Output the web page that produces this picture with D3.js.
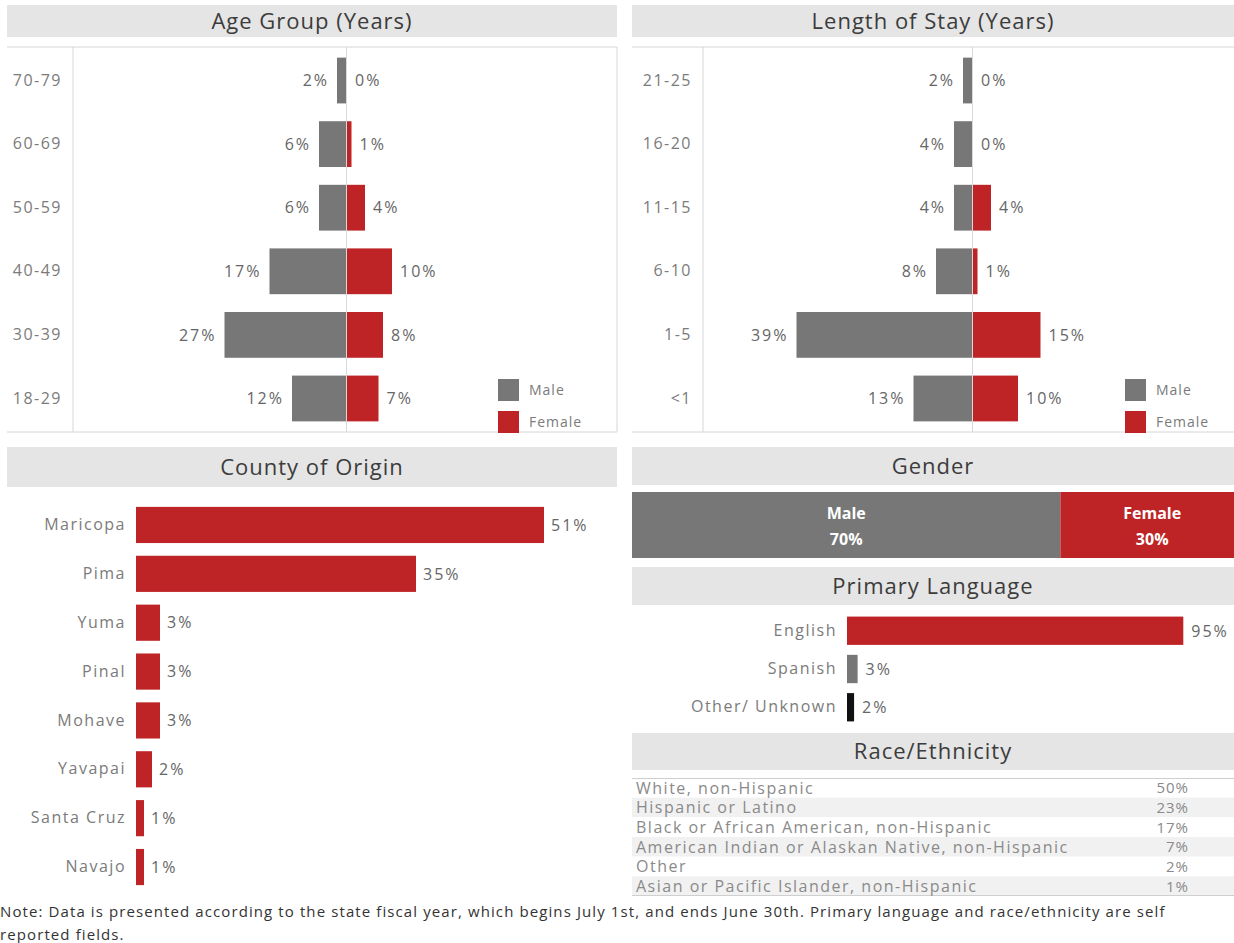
<!DOCTYPE html>
<html>
<head>
<meta charset="utf-8">
<script src="https://cdn.jsdelivr.net/npm/d3@7"></script>
<style>
  html, body { margin: 0; padding: 0; background: #fff; }
  svg { display: block; font-family: "Open Sans", "Noto Sans", sans-serif; }
</style>
</head>
<body>
<svg id="dash" width="1234" height="943"></svg>
<script>
// ---- Data ----
const ageGroups = ["70-79", "60-69", "50-59", "40-49", "30-39", "18-29"];
const ageMale = [2, 6, 6, 17, 27, 12];
const ageFemale = [0, 1, 4, 10, 8, 7];

const stayGroups = ["21-25", "16-20", "11-15", "6-10", "1-5", "<1"];
const stayMale = [2, 4, 4, 8, 39, 13];
const stayFemale = [0, 0, 4, 1, 15, 10];

const counties = ["Maricopa", "Pima", "Yuma", "Pinal", "Mohave", "Yavapai", "Santa Cruz", "Navajo"];
const countyPct = [51, 35, 3, 3, 3, 2, 1, 1];

const genders = ["Male", "Female"];
const genderPct = [70, 30];

const languages = ["English", "Spanish", "Other/ Unknown"];
const languagePct = [95, 3, 2];

const races = [
  "White, non-Hispanic",
  "Hispanic or Latino",
  "Black or African American, non-Hispanic",
  "American Indian or Alaskan Native, non-Hispanic",
  "Other",
  "Asian or Pacific Islander, non-Hispanic"
];
const racePct = [50, 23, 17, 7, 2, 1];

const noteLines = [
  "Note: Data is presented according to the state fiscal year, which begins July 1st, and ends June 30th. Primary language and race/ethnicity are self",
  "reported fields."
];

// ---- Styles ----
const MALE = "#777777";
const FEMALE = "#be2426";
const BAND = "#e5e5e5";
const TITLE = "#3c3c3c";
const LABEL = "#7b7b7b";
const VALUE = "#666";
const RULE = "#d6d6d6";

const svg = d3.select("#dash");
const pct = d => d + "%";

function styleLabel(sel, size, spacing) {
  sel.attr("font-size", size).attr("letter-spacing", spacing).attr("font-family", "Open Sans");
}

function titleBand(x0, x1, y0, y1, text) {
  svg.append("rect").attr("x", x0).attr("y", y0).attr("width", x1 - x0).attr("height", y1 - y0).attr("fill", BAND);
  svg.append("text").attr("x", (x0 + x1) / 2).attr("y", (y0 + y1) / 2).attr("dy", "0.36em")
    .attr("text-anchor", "middle").attr("font-size", 22).attr("letter-spacing", 1)
    .attr("fill", TITLE).text(text);
}

// Butterfly chart: male to the left of the centre line, female to the right
function butterfly(cfg) {
  const { x0, x1, axisX, centerX, top, bottom, cats, male, female, legendX } = cfg;
  const g = svg.append("g");
  const y = d3.scaleBand().domain(cats).range([top + 3, bottom - 3]).paddingInner(0.28).paddingOuter(0.12);
  const xl = d3.scaleLinear().domain([0, 60]).range([centerX, centerX - 270]);
  const xr = d3.scaleLinear().domain([0, 60]).range([centerX, centerX + 270]);

  // frame lines
  g.append("line").attr("x1", x0).attr("x2", x1).attr("y1", top).attr("y2", top).attr("stroke", RULE);
  g.append("line").attr("x1", x0).attr("x2", x1).attr("y1", bottom).attr("y2", bottom).attr("stroke", RULE);
  g.append("line").attr("x1", axisX).attr("x2", axisX).attr("y1", top).attr("y2", bottom).attr("stroke", RULE);
  g.append("line").attr("x1", x1).attr("x2", x1).attr("y1", top).attr("y2", bottom).attr("stroke", RULE);

  // category axis
  const ax = g.append("g").attr("transform", `translate(${axisX - 11},0)`)
    .call(d3.axisLeft(y).tickSize(0).tickPadding(0));
  ax.select(".domain").remove();
  ax.selectAll("text").attr("fill", LABEL).call(styleLabel, 16, 1.5);

  const rows = cats.map((c, i) => ({ c, m: male[i], f: female[i] }));

  g.selectAll(".m").data(rows).join("rect")
    .attr("x", d => xl(d.m)).attr("y", d => y(d.c))
    .attr("width", d => xl(0) - xl(d.m)).attr("height", y.bandwidth()).attr("fill", MALE);
  g.selectAll(".f").data(rows).join("rect")
    .attr("x", xr(0) + 1).attr("y", d => y(d.c))
    .attr("width", d => xr(d.f) - xr(0)).attr("height", y.bandwidth()).attr("fill", FEMALE);

  // centre line
  g.append("line").attr("x1", centerX + 0.5).attr("x2", centerX + 0.5).attr("y1", top).attr("y2", bottom)
    .attr("stroke", "#d9d9d9");

  g.selectAll(".ml").data(rows).join("text")
    .attr("x", d => xl(d.m) - 8).attr("y", d => y(d.c) + y.bandwidth() / 2).attr("dy", "0.36em")
    .attr("text-anchor", "end").attr("fill", VALUE).call(styleLabel, 16, 2).text(d => pct(d.m));
  g.selectAll(".fl").data(rows).join("text")
    .attr("x", d => xr(d.f) + 9).attr("y", d => y(d.c) + y.bandwidth() / 2).attr("dy", "0.36em")
    .attr("fill", VALUE).call(styleLabel, 16, 2).text(d => pct(d.f));

  // legend
  const leg = g.append("g").attr("transform", `translate(${legendX},${bottom - 53})`);
  [["Male", MALE], ["Female", FEMALE]].forEach(([name, col], i) => {
    leg.append("rect").attr("x", 0).attr("y", i * 32).attr("width", 21).attr("height", 22).attr("fill", col);
    leg.append("text").attr("x", 31).attr("y", i * 32 + 11).attr("dy", "0.36em")
      .attr("fill", LABEL).call(styleLabel, 14, 1).text(name);
  });
}

// ---- Age Group ----
titleBand(7, 617, 5, 37, "Age Group (Years)");
butterfly({ x0: 7, x1: 617, axisX: 73, centerX: 346, top: 47, bottom: 432,
  cats: ageGroups, male: ageMale, female: ageFemale, legendX: 498 });

// ---- Length of Stay ----
titleBand(632, 1234, 5, 37, "Length of Stay (Years)");
butterfly({ x0: 632, x1: 1240, axisX: 703, centerX: 972, top: 47, bottom: 432,
  cats: stayGroups, male: stayMale, female: stayFemale, legendX: 1125 });

// ---- County of Origin ----
titleBand(7, 617, 447, 487, "County of Origin");
{
  const y = d3.scaleBand().domain(counties).range([502, 890]).paddingInner(0.26).paddingOuter(0.1);
  const x = d3.scaleLinear().domain([0, 60]).range([136, 136 + 60 * 8.0]);
  const g = svg.append("g");
  const ax = g.append("g").attr("transform", "translate(126,0)").call(d3.axisLeft(y).tickSize(0).tickPadding(0));
  ax.select(".domain").remove();
  ax.selectAll("text").attr("fill", LABEL).call(styleLabel, 16, 1.5);
  const rows = counties.map((c, i) => ({ c, v: countyPct[i] }));
  g.selectAll("rect").data(rows).join("rect")
    .attr("x", x(0)).attr("y", d => y(d.c)).attr("width", d => x(d.v) - x(0)).attr("height", y.bandwidth())
    .attr("fill", FEMALE);
  g.selectAll(".v").data(rows).join("text")
    .attr("x", d => x(d.v) + 7).attr("y", d => y(d.c) + y.bandwidth() / 2).attr("dy", "0.36em")
    .attr("fill", VALUE).call(styleLabel, 16, 2).text(d => pct(d.v));
}

// ---- Gender ----
titleBand(632, 1234, 447, 485, "Gender");
{
  const x = d3.scaleLinear().domain([0, 100]).range([632, 1244]);
  const rows = genders.map((c, i) => ({ c, v: genderPct[i], start: d3.sum(genderPct.slice(0, i)) }));
  const g = svg.append("g");
  g.selectAll("rect").data(rows).join("rect")
    .attr("x", d => x(d.start)).attr("y", 492).attr("height", 66)
    .attr("width", d => x(d.start + d.v) - x(d.start)).attr("fill", (d, i) => i ? FEMALE : MALE);
  const lab = g.selectAll(".gl").data(rows).join("text")
    .attr("text-anchor", "middle").attr("fill", "#fff").attr("font-weight", "bold").attr("font-size", 16);
  lab.append("tspan").attr("x", d => x(d.start + d.v / 2)).attr("y", 519).text(d => d.c);
  lab.append("tspan").attr("x", d => x(d.start + d.v / 2)).attr("y", 545).text(d => pct(d.v));
}

// ---- Primary Language ----
titleBand(632, 1234, 567, 605, "Primary Language");
{
  const y = d3.scaleBand().domain(languages).range([612, 726]).paddingInner(0.26).paddingOuter(0.12);
  const x = d3.scaleLinear().domain([0, 100]).range([847, 847 + 354]);
  const cols = [FEMALE, MALE, "#111"];
  const g = svg.append("g");
  const ax = g.append("g").attr("transform", "translate(837,0)").call(d3.axisLeft(y).tickSize(0).tickPadding(0));
  ax.select(".domain").remove();
  ax.selectAll("text").attr("fill", LABEL).call(styleLabel, 16, 1.5);
  const rows = languages.map((c, i) => ({ c, v: languagePct[i], col: cols[i] }));
  g.selectAll("rect").data(rows).join("rect")
    .attr("x", x(0)).attr("y", d => y(d.c)).attr("width", d => x(d.v) - x(0)).attr("height", y.bandwidth())
    .attr("fill", d => d.col);
  g.selectAll(".v").data(rows).join("text")
    .attr("x", d => x(d.v) + 8).attr("y", d => y(d.c) + y.bandwidth() / 2).attr("dy", "0.36em")
    .attr("fill", VALUE).call(styleLabel, 16, 2).text(d => pct(d.v));
}

// ---- Race/Ethnicity table ----
titleBand(632, 1234, 733, 770, "Race/Ethnicity");
{
  const y = d3.scaleBand().domain(races).range([778, 896]);
  const g = svg.append("g");
  const rows = races.map((c, i) => ({ c, v: racePct[i], i }));
  g.selectAll("rect").data(rows).join("rect")
    .attr("x", 632).attr("width", 602).attr("y", d => y(d.c)).attr("height", y.bandwidth())
    .attr("fill", d => d.i % 2 ? "#f1f1f1" : "#fff");
  g.append("line").attr("x1", 632).attr("x2", 1234).attr("y1", 778.5).attr("y2", 778.5).attr("stroke", "#cfcfcf");
  g.append("line").attr("x1", 632).attr("x2", 1234).attr("y1", 895.5).attr("y2", 895.5).attr("stroke", "#cfcfcf");
  g.selectAll(".n").data(rows).join("text")
    .attr("x", 636).attr("y", d => y(d.c) + y.bandwidth() / 2).attr("dy", "0.36em")
    .attr("fill", "#8a8a8a").call(styleLabel, 16, 1.5).text(d => d.c);
  g.selectAll(".v").data(rows).join("text")
    .attr("x", 1189).attr("text-anchor", "end").attr("y", d => y(d.c) + y.bandwidth() / 2).attr("dy", "0.36em")
    .attr("fill", "#8a8a8a").call(styleLabel, 15, 1).text(d => pct(d.v));
}

// ---- Footnote ----
svg.selectAll(".note").data(noteLines).join("text")
  .attr("x", 0).attr("y", (d, i) => 912 + i * 23).attr("dy", "0.36em")
  .attr("fill", "#333").call(styleLabel, 15, 1.1).text(d => d);
</script>
</body>
</html>
